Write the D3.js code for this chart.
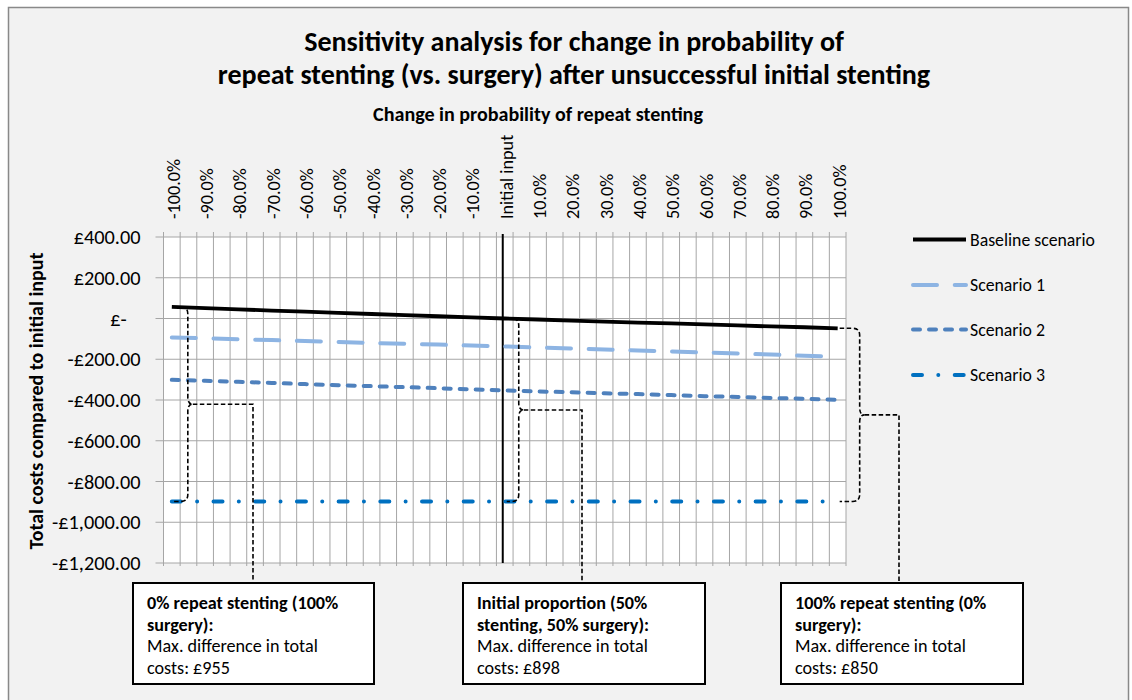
<!DOCTYPE html>
<html>
<head>
<meta charset="utf-8">
<script src="https://cdn.jsdelivr.net/npm/d3@7"></script>
<style>
  html, body { margin: 0; padding: 0; background: #ffffff; }
  svg { display: block; }
  text { font-family: Calibri, Carlito, Lato, "Noto Sans", sans-serif; fill: #000; }
</style>
</head>
<body>
<svg id="chart" width="1132" height="700"></svg>
<script>
// Change in probability of repeat stenting (category axis, top)
const categories = [
  "-100.0%", "-90.0%", "-80.0%", "-70.0%", "-60.0%", "-50.0%", "-40.0%",
  "-30.0%", "-20.0%", "-10.0%", "Initial input", "10.0%", "20.0%", "30.0%",
  "40.0%", "50.0%", "60.0%", "70.0%", "80.0%", "90.0%", "100.0%"
];

// Total costs compared to initial input (£), one value per category
const baselineScenario = [57, 51, 45, 39, 34, 28, 22, 17, 11, 6, 0,
  -5, -10, -15, -20, -24, -29, -34, -39, -43, -48];
const scenario1 = [-93, -97, -102, -106, -111, -115, -120, -124, -128, -133, -137,
  -142, -147, -152, -157, -162, -167, -172, -177, -183, -188];
const scenario2 = [-301, -306, -311, -316, -322, -327, -332, -337, -342, -348, -353,
  -358, -362, -367, -371, -376, -381, -385, -390, -394, -399];
const scenario3 = [-898, -898, -898, -898, -898, -898, -898, -898, -898, -898, -898,
  -898, -898, -898, -898, -898, -898, -898, -898, -898, -898];

const seriesNames = ["Baseline scenario", "Scenario 1", "Scenario 2", "Scenario 3"];

// Value axis
const yTickValues = [400, 200, 0, -200, -400, -600, -800, -1000, -1200];
const yTickLabels = ["£400.00", "£200.00", "£-   ", "-£200.00", "-£400.00",
  "-£600.00", "-£800.00", "-£1,000.00", "-£1,200.00"];

// Call-out boxes: the category each one refers to, heading and body lines
const calloutCategory = ["-100.0%", "Initial input", "100.0%"];
const calloutHeading = [
  ["0% repeat stenting (100%", "surgery):"],
  ["Initial proportion (50%", "stenting, 50% surgery):"],
  ["100% repeat stenting (0%", "surgery):"]
];
const calloutBody = [
  ["Max. difference in total", "costs: £955"],
  ["Max. difference in total", "costs: £898"],
  ["Max. difference in total", "costs: £850"]
];

// ---------------------------------------------------------------------------
const svg = d3.select("#chart");
const W = 1132, H = 700;

// font size that makes a string span a given width
const probe = svg.append("text").attr("visibility", "hidden");
function sizeFor(str, width, weight) {
  probe.attr("font-size", 100).attr("font-weight", weight || "normal").text(str);
  return 100 * width / probe.node().getComputedTextLength();
}
const fTitle1 = sizeFor("Sensitivity analysis for change in probability of", 537, "bold");
const fTitle2 = sizeFor("repeat stenting (vs. surgery) after unsuccessful initial stenting", 717, "bold");
const fTitle = (fTitle1 + fTitle2) / 2;
const fAxisTitle = sizeFor("Change in probability of repeat stenting", 330, "bold");
const fYTitle = sizeFor("Total costs compared to initial input", 297, "bold");
const fTick = sizeFor("-100.0%", 60);
const fYLabel = (sizeFor("£400.00", 68) + sizeFor("-£1,200.00", 87)) / 2;
const fLegend = sizeFor("Baseline scenario", 125);
const fBox = sizeFor("Max. difference in total", 171);
probe.remove();

// chart area background and frame
svg.append("rect").attr("x", 8.5).attr("y", 7.5).attr("width", W - 12).attr("height", H + 10)
  .attr("fill", "#f2f2f2").attr("stroke", "#898989").attr("stroke-width", 1.5);

const plot = { left: 163.5, right: 846, top: 237, bottom: 563 };

const idx = d3.range(categories.length);
const x = d3.scaleLinear().domain([-0.25, categories.length - 0.75]).range([plot.left, plot.right]);
const y = d3.scaleLinear().domain([-1200, 400]).range([plot.bottom, plot.top]);

// plot area
svg.append("rect").attr("x", plot.left).attr("y", plot.top)
  .attr("width", plot.right - plot.left).attr("height", plot.bottom - plot.top)
  .attr("fill", "#ffffff");

// gridlines: one between and one on every category
const gridX = d3.range(-0.25, categories.length - 0.74, 0.5);
const grid = svg.append("g").attr("stroke", "#a6a6a6").attr("stroke-width", 1);
grid.selectAll("line.v").data(gridX).join("line").attr("class", "v")
  .attr("x1", d => x(d)).attr("x2", d => x(d))
  .attr("y1", plot.top - 5).attr("y2", plot.bottom + 3);
grid.selectAll("line.h").data(yTickValues).join("line").attr("class", "h")
  .attr("x1", plot.left - 8).attr("x2", plot.right)
  .attr("y1", d => y(d)).attr("y2", d => y(d));

// left value axis labels
const yAxis = d3.axisLeft(y).tickValues(yTickValues)
  .tickFormat((d, i) => yTickLabels[i]).tickSize(0).tickPadding(0);
const gy = svg.append("g").attr("transform", `translate(${plot.left - 23},0)`).call(yAxis);
gy.select(".domain").remove();
gy.selectAll("text").attr("font-size", fYLabel).attr("fill", "#000")
  .style("white-space", "pre")
  .attr("font-family", "Calibri, Carlito, Lato, sans-serif");

// top category labels, rotated
const topLabels = svg.append("g");
topLabels.selectAll("text").data(idx).join("text")
  .attr("transform", d => `translate(${x(d) + 2},219) rotate(-90)`)
  .attr("dominant-baseline", "central")
  .attr("font-size", fTick)
  .text(d => categories[d]);

// axis titles
svg.append("text").attr("x", 538).attr("y", 121).attr("text-anchor", "middle")
  .attr("font-size", fAxisTitle).attr("font-weight", "bold")
  .text("Change in probability of repeat stenting");
svg.append("text").attr("transform", `translate(43,${(plot.top + plot.bottom) / 2 + 1}) rotate(-90)`)
  .attr("text-anchor", "middle").attr("font-size", fYTitle).attr("font-weight", "bold")
  .text("Total costs compared to initial input");

// chart title
const title = svg.append("text").attr("font-size", fTitle).attr("font-weight", "bold")
  .attr("text-anchor", "middle");
title.append("tspan").attr("x", 574).attr("y", 51).text("Sensitivity analysis for change in probability of");
title.append("tspan").attr("x", 574).attr("y", 84).text("repeat stenting (vs. surgery) after unsuccessful initial stenting");

// reference line at the initial input
const initialIndex = categories.indexOf("Initial input");
svg.append("line")
  .attr("x1", x(initialIndex) - 2).attr("x2", x(initialIndex) - 2)
  .attr("y1", plot.top - 3).attr("y2", plot.bottom)
  .attr("stroke", "#000").attr("stroke-width", 2);

// series
const series = [
  { name: seriesNames[0], values: baselineScenario, color: "#000000", width: 3.8, dash: null, cap: "butt" },
  { name: seriesNames[1], values: scenario1, color: "#8db4e3", width: 4, dash: "24,17.7", cap: "round" },
  { name: seriesNames[2], values: scenario2, color: "#4f81bd", width: 4, dash: "7,9", cap: "round" },
  { name: seriesNames[3], values: scenario3, color: "#0070c0", width: 4, dash: "9,16.3,0,16.4", cap: "round" }
];
const line = d3.line().x((d, i) => x(i)).y(d => y(d));

svg.append("g").selectAll("path").data(series.slice().reverse()).join("path")
  .attr("d", s => line(s.values))
  .attr("fill", "none")
  .attr("stroke", s => s.color)
  .attr("stroke-width", s => s.width)
  .attr("stroke-dasharray", s => s.dash)
  .attr("stroke-linecap", s => s.cap)
  .attr("stroke-linejoin", "round");

// legend
const legend = svg.append("g");
const legendY = [239.5, 285, 329.5, 375];
series.forEach((s, i) => {
  legend.append("line").attr("x1", 913).attr("x2", 966)
    .attr("y1", legendY[i]).attr("y2", legendY[i])
    .attr("stroke", s.color).attr("stroke-width", s.width)
    .attr("stroke-dasharray", s.dash).attr("stroke-linecap", s.cap);
  legend.append("text").attr("x", 970).attr("y", legendY[i])
    .attr("dominant-baseline", "central")
    .attr("font-size", fLegend).text(s.name);
});

// braces spanning baseline to scenario 3, with elbow connectors to the call-outs
const boxes = [
  { x: 133, y: 583, w: 241, h: 101, anchor: 253, braceDx: 16 },
  { x: 463, y: 583, w: 242, h: 101, anchor: 582, braceDx: 14 },
  { x: 781, y: 583, w: 242, h: 101, anchor: 899, braceDx: 22 }
];
const annot = svg.append("g").attr("fill", "none").attr("stroke", "#000")
  .attr("stroke-width", 1.6).attr("stroke-dasharray", "4.5,2.5");

calloutCategory.forEach((cat, k) => {
  const i = categories.indexOf(cat);
  const b = boxes[k];
  const x0 = x(i) + 2;
  const bx = x(i) + b.braceDx;
  const yTop = y(baselineScenario[i]);
  const yBot = y(scenario3[i]);
  const yMid = (yTop + yBot) / 2;
  const r = Math.min(7, b.braceDx - 3);
  const tip = 5;
  const p = d3.path();
  p.moveTo(x0, yTop);
  p.lineTo(bx - r, yTop);
  p.quadraticCurveTo(bx, yTop, bx, yTop + r);
  p.lineTo(bx, yMid - r);
  p.quadraticCurveTo(bx, yMid, bx + tip, yMid);
  p.quadraticCurveTo(bx, yMid, bx, yMid + r);
  p.lineTo(bx, yBot - r);
  p.quadraticCurveTo(bx, yBot, bx - r, yBot);
  p.lineTo(x0, yBot);
  annot.append("path").attr("d", p.toString());

  const c = d3.path();
  c.moveTo(bx + tip, yMid);
  c.lineTo(b.anchor, yMid);
  c.lineTo(b.anchor, b.y);
  annot.append("path").attr("d", c.toString());
});

// call-out boxes
const box = svg.append("g");
boxes.forEach((b, k) => {
  box.append("rect").attr("x", b.x).attr("y", b.y).attr("width", b.w).attr("height", b.h)
    .attr("fill", "#ffffff").attr("stroke", "#000").attr("stroke-width", 2);
  const t = box.append("text").attr("font-size", fBox);
  const lines = calloutHeading[k].map(s => ({ s, bold: true }))
    .concat(calloutBody[k].map(s => ({ s, bold: false })));
  lines.forEach((ln, j) => {
    t.append("tspan").attr("x", b.x + 14).attr("y", b.y + 26 + j * 21.5)
      .attr("font-weight", ln.bold ? "bold" : "normal").text(ln.s);
  });
});
</script>
</body>
</html>
